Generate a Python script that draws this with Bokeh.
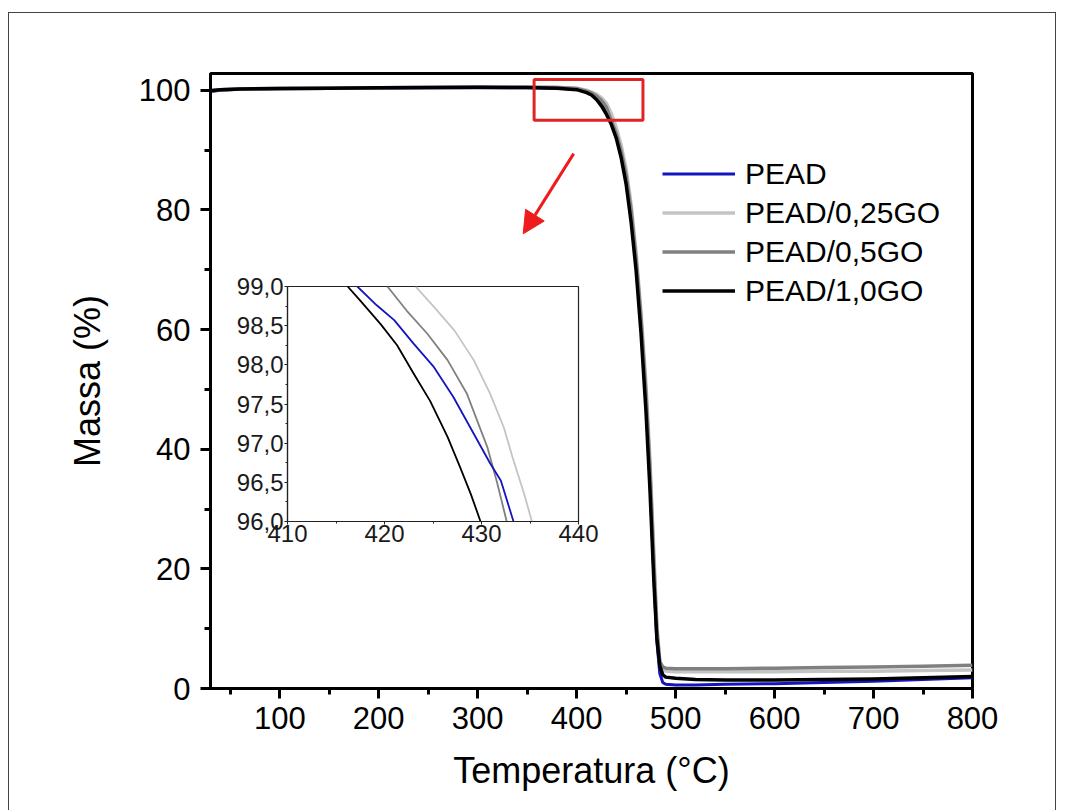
from bokeh.plotting import figure
from bokeh.models import (Range1d, FixedTicker, Legend, LegendItem, Arrow, NormalHead,
                          BoxAnnotation)
from bokeh.layouts import column
from bokeh.embed import file_html
from bokeh.resources import INLINE

# ---------------- data ----------------
series_names = ["PEAD", "PEAD/0,25GO", "PEAD/0,5GO", "PEAD/1,0GO"]
series_colors = ["#1414C0", "#C4C4C4", "#808080", "#000000"]

temp_main = [30, 40, 60, 100, 150, 200, 250, 300, 350, 380, 400, 410, 415, 420, 425, 430,
             435, 440, 445, 450, 455, 460, 465, 470, 474, 478, 481, 484, 487, 490, 500,
             520, 550, 600, 650, 700, 750, 800]
mass_pead = [99.8, 100.0, 100.15, 100.25, 100.3, 100.35, 100.4, 100.4, 100.4, 100.35, 100.15,
             99.7, 99.3, 98.7, 98.0, 96.95, 95.3, 93.2, 90.2, 86.0, 80.0, 71.5, 61.0, 48.0,
             35.0, 19.0, 8.0, 2.5, 1.0, 0.7, 0.6, 0.6, 0.7, 0.8, 1.0, 1.2, 1.5, 1.8]
mass_025 = [99.9, 100.1, 100.2, 100.3, 100.35, 100.4, 100.45, 100.5, 100.5, 100.5, 100.35,
            100.0, 99.7, 99.35, 98.75, 97.85, 96.1, 93.8, 90.8, 86.8, 81.0, 73.0, 63.0, 51.0,
            38.5, 23.0, 11.0, 4.2, 3.1, 2.9, 2.8, 2.8, 2.8, 2.8, 2.9, 2.9, 3.0, 3.1]
mass_05 = [99.9, 100.1, 100.2, 100.3, 100.35, 100.4, 100.45, 100.5, 100.5, 100.45, 100.3,
           99.85, 99.55, 99.05, 98.3, 97.2, 94.9, 92.8, 89.8, 85.8, 80.0, 72.0, 62.0, 49.5,
           37.0, 21.0, 10.0, 4.5, 3.6, 3.4, 3.3, 3.3, 3.3, 3.4, 3.5, 3.6, 3.7, 3.9]
mass_10 = [99.9, 100.1, 100.2, 100.3, 100.35, 100.4, 100.45, 100.5, 100.45, 100.35, 100.1,
           99.6, 99.2, 98.45, 97.4, 96.0, 94.3, 92.0, 88.7, 84.3, 78.0, 70.0, 59.5, 46.5,
           33.5, 18.0, 8.5, 3.8, 2.3, 1.9, 1.7, 1.5, 1.4, 1.4, 1.5, 1.6, 1.8, 2.0]

# inset (zoom 410-440 degC, 96-99 %)
inset_t_pead = [417.2, 419.2, 421.0, 423.0, 425.1, 427.1, 429.2, 430.9, 432.0, 433.3]
inset_m_pead = [99.0, 98.76, 98.57, 98.27, 97.97, 97.59, 97.12, 96.74, 96.52, 96.0]
inset_t_025 = [423.2, 425.1, 427.2, 429.2, 430.9, 432.3, 433.3, 434.4, 435.2]
inset_m_025 = [99.0, 98.74, 98.44, 98.06, 97.63, 97.20, 96.78, 96.35, 96.0]
inset_t_05 = [420.3, 422.3, 424.4, 426.5, 428.5, 430.6, 431.6, 432.6]
inset_m_05 = [99.0, 98.69, 98.40, 98.06, 97.63, 96.95, 96.5, 96.0]
inset_t_10 = [416.2, 417.5, 419.6, 421.3, 423.0, 424.7, 426.5, 427.8, 428.9, 429.9]
inset_m_10 = [99.0, 98.82, 98.52, 98.25, 97.89, 97.54, 97.08, 96.69, 96.35, 96.0]

x_ticks = [100, 200, 300, 400, 500, 600, 700, 800]
x_minor = [50, 150, 250, 350, 450, 550, 650, 750]
y_ticks = [0, 20, 40, 60, 80, 100]
y_minor = [10, 30, 50, 70, 90]
inset_x_ticks = [410, 420, 430, 440]
inset_x_minor = [415, 425, 435]
inset_y_ticks = [96.0, 96.5, 97.0, 97.5, 98.0, 98.5, 99.0]
inset_y_labels = ["96,0", "96,5", "97,0", "97,5", "98,0", "98,5", "99,0"]
inset_y_minor = [96.25, 96.75, 97.25, 97.75, 98.25, 98.75]

# highlight box and arrow (data coordinates of the main plot)
box_x = [357, 467]
box_y = [95.0, 101.8]
arrow_from = [397, 89.4]
arrow_to = [346, 76.0]

FONT = "Liberation Sans"

# ---------------- main figure ----------------
MAIN_H = 797
BORDER_L, BORDER_R = 201, 83
p = figure(width=1046, height=MAIN_H, output_backend="svg", toolbar_location=None,
           x_range=Range1d(30, 800), y_range=Range1d(0, 102.8),
           min_border_left=BORDER_L, min_border_right=BORDER_R, min_border_top=60,
           min_border_bottom=122)
p.xgrid.visible = False
p.ygrid.visible = False
p.outline_line_color = "black"
p.outline_line_width = 3
p.background_fill_color = "white"
p.border_fill_color = "white"

main_masses = [mass_pead, mass_025, mass_05, mass_10]
widths = [3, 3.5, 3.5, 3.5]
renderers = []
for name, col, m, w in zip(series_names, series_colors, main_masses, widths):
    r = p.line(temp_main, m, line_color=col, line_width=w, line_join="round")
    renderers.append(r)

for ax, ticks, minor in [(p.xaxis[0], x_ticks, x_minor), (p.yaxis[0], y_ticks, y_minor)]:
    ax.ticker = FixedTicker(ticks=ticks, minor_ticks=minor)
    ax.axis_line_width = 3
    ax.major_tick_line_width = 3
    ax.minor_tick_line_width = 3
    ax.major_tick_in = 0
    ax.minor_tick_in = 0
    ax.major_tick_out = 10
    ax.minor_tick_out = 6
    ax.major_label_text_font = FONT
    ax.major_label_text_font_size = "31px"
    ax.major_label_text_color = "black"
    ax.axis_label_text_font = FONT
    ax.axis_label_text_font_size = "36px"
    ax.axis_label_text_font_style = "normal"
    ax.axis_label_text_color = "black"

p.xaxis.axis_label = "Temperatura (°C)"
p.yaxis.axis_label = "Massa (%)"
p.xaxis.major_label_standoff = 8
p.yaxis.major_label_standoff = 10
p.xaxis.axis_label_standoff = 18
p.yaxis.axis_label_standoff = 28

legend = Legend(items=[LegendItem(label=n, renderers=[r]) for n, r in zip(series_names, renderers)],
                location=(452, 378), label_text_font=FONT, label_text_font_size="30px",
                label_text_color="black",
                glyph_width=73, glyph_height=39, label_height=39, spacing=0, padding=0, margin=0,
                label_standoff=10, border_line_alpha=0, background_fill_alpha=0)
p.add_layout(legend, "center")

p.add_layout(BoxAnnotation(left=box_x[0], right=box_x[1], bottom=box_y[0], top=box_y[1],
                           fill_alpha=0, line_color="#E02424", line_alpha=1, line_width=3))
p.add_layout(Arrow(end=NormalHead(size=22, fill_color="#EE1C1C", line_color="#EE1C1C"),
                   x_start=arrow_from[0], y_start=arrow_from[1],
                   x_end=arrow_to[0], y_end=arrow_to[1],
                   line_color="#EE1C1C", line_width=3))

# ---------------- inset ----------------
# the column aligns plot frames, so the inset uses the same side borders as the main plot
INS_FRAME_W, INS_FRAME_H = 291, 235
INS_W = BORDER_L + INS_FRAME_W + BORDER_R
INS_TOP_B, INS_BOT_B = 24, 36
INS_H = INS_TOP_B + INS_FRAME_H + INS_BOT_B
ins = figure(width=INS_W, height=INS_H, output_backend="svg", toolbar_location=None,
             x_range=Range1d(410, 440), y_range=Range1d(96, 99),
             min_border_left=BORDER_L, min_border_right=BORDER_R,
             min_border_top=INS_TOP_B, min_border_bottom=INS_BOT_B)
ins.xgrid.visible = False
ins.ygrid.visible = False
ins.outline_line_color = "#222222"
ins.outline_line_width = 1.2
ins.background_fill_color = "white"
ins.border_fill_alpha = 0

inset_sets = [(inset_t_025, inset_m_025, series_colors[1]),
              (inset_t_05, inset_m_05, series_colors[2]),
              (inset_t_pead, inset_m_pead, series_colors[0]),
              (inset_t_10, inset_m_10, series_colors[3])]
for t, m, c in inset_sets:
    ins.line(t, m, line_color=c, line_width=1.8, line_join="round")

ins.xaxis.ticker = FixedTicker(ticks=inset_x_ticks, minor_ticks=inset_x_minor)
ins.yaxis.ticker = FixedTicker(ticks=inset_y_ticks, minor_ticks=inset_y_minor)
ins.yaxis.major_label_overrides = {v: s for v, s in zip(inset_y_ticks, inset_y_labels)}
for ax in [ins.xaxis[0], ins.yaxis[0]]:
    ax.axis_line_width = 1.2
    ax.axis_line_color = "#222222"
    ax.major_tick_line_color = "#222222"
    ax.minor_tick_line_color = "#222222"
    ax.major_tick_in = 0
    ax.major_tick_out = 3
    ax.minor_tick_in = 0
    ax.minor_tick_out = 2
    ax.major_label_text_font = FONT
    ax.major_label_text_font_size = "24px"
    ax.major_label_text_color = "#1a1a1a"
ins.xaxis.major_label_standoff = 0
ins.yaxis.major_label_standoff = 1

# overlay the inset on the main plot: pull it up with a negative top margin
ins_top = 286 - INS_TOP_B - 13  # frame top at page y=286
ins_left = 287 - BORDER_L - 9   # frame left at page x=287
ins.margin = (ins_top - MAIN_H, 0, MAIN_H - ins_top - INS_H, ins_left)

layout = column(p, ins, styles={"border": "1px solid #444444", "border-bottom": "none",
                                "margin-top": "12px", "margin-left": "8px"})

open("out.html", "w").write(file_html(layout, INLINE))
